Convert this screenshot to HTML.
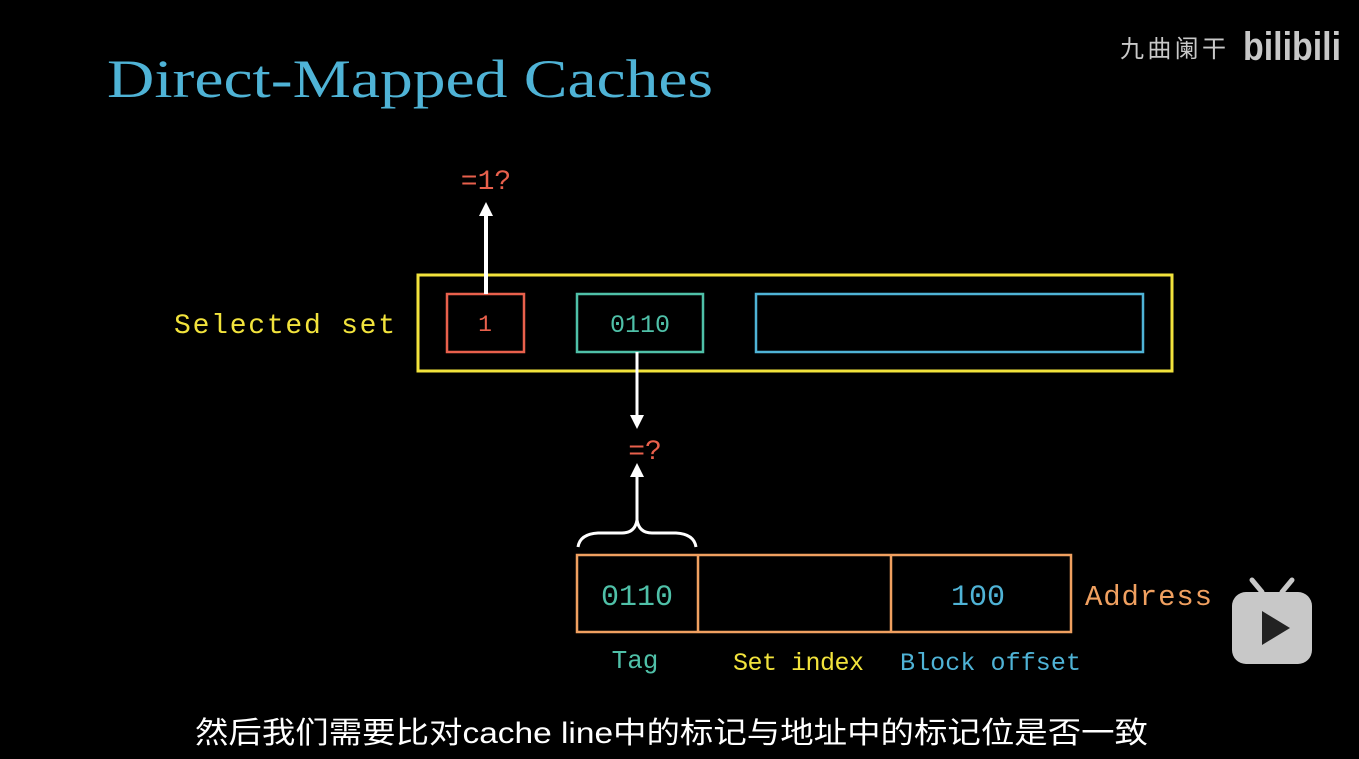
<!DOCTYPE html>
<html><head><meta charset="utf-8"><style>
html,body{margin:0;padding:0;background:#000;width:1359px;height:759px;overflow:hidden}
</style></head><body>
<svg width="1359" height="759" xmlns="http://www.w3.org/2000/svg">
<rect width="1359" height="759" fill="#000"/>
<text x="107" y="97" font-family="Liberation Serif, serif" font-size="54" fill="#4fb3d6" textLength="606" lengthAdjust="spacingAndGlyphs">Direct-Mapped Caches</text>
<text x="1120" y="57" font-family="Noto Sans CJK SC, sans-serif" font-size="24" fill="#c8c8c8" textLength="106">九曲阑干</text>
<text x="1243" y="60" font-family="Liberation Sans, sans-serif" font-weight="bold" font-size="40" fill="#c8c8c8" textLength="98" lengthAdjust="spacingAndGlyphs">bilibili</text>

<text x="174" y="333" font-family="Liberation Mono, monospace" font-size="28" fill="#f2e33c" textLength="221">Selected set</text>
<rect x="418" y="275" width="754" height="96" fill="none" stroke="#f2e33c" stroke-width="3"/>
<rect x="447" y="294" width="77" height="58" fill="none" stroke="#e8604c" stroke-width="2.5"/>
<text x="485" y="331" text-anchor="middle" font-family="Liberation Mono, monospace" font-size="23" fill="#e8604c">1</text>
<rect x="577" y="294" width="126" height="58" fill="none" stroke="#4fc0a8" stroke-width="2.5"/>
<text x="640" y="332" text-anchor="middle" font-family="Liberation Mono, monospace" font-size="25" fill="#4fc0a8">0110</text>
<rect x="756" y="294" width="387" height="58" fill="none" stroke="#4fb3d6" stroke-width="2.5"/>

<line x1="486" y1="294" x2="486" y2="214" stroke="#fff" stroke-width="4"/>
<polygon points="486,202 479,216 493,216" fill="#fff"/>
<text x="486" y="189" text-anchor="middle" font-family="Liberation Mono, monospace" font-size="28" fill="#e8604c">=1?</text>

<line x1="637" y1="352" x2="637" y2="418" stroke="#fff" stroke-width="3"/>
<polygon points="637,429 630,415 644,415" fill="#fff"/>
<text x="645" y="459" text-anchor="middle" font-family="Liberation Mono, monospace" font-size="28" fill="#e8604c">=?</text>
<line x1="637" y1="520" x2="637" y2="476" stroke="#fff" stroke-width="3"/>
<polygon points="637,463 630,477 644,477" fill="#fff"/>
<path d="M578,547 Q580,534 598,533 L622,533 Q635,533 637,520 Q639,533 652,533 L676,533 Q694,534 696,547" fill="none" stroke="#fff" stroke-width="3"/>

<rect x="577" y="555" width="494" height="77" fill="none" stroke="#f0a060" stroke-width="2.5"/>
<line x1="698" y1="555" x2="698" y2="632" stroke="#f0a060" stroke-width="2.5"/>
<line x1="891" y1="555" x2="891" y2="632" stroke="#f0a060" stroke-width="2.5"/>
<text x="637" y="605" text-anchor="middle" font-family="Liberation Mono, monospace" font-size="30" fill="#4fc0a8">0110</text>
<text x="978" y="605" text-anchor="middle" font-family="Liberation Mono, monospace" font-size="30" fill="#4fb3d6">100</text>
<text x="1085" y="605" font-family="Liberation Mono, monospace" font-size="29" fill="#f0a060" textLength="127">Address</text>
<text x="635" y="668" text-anchor="middle" font-family="Liberation Mono, monospace" font-size="26" fill="#4fc0a8">Tag</text>
<text x="733" y="670" font-family="Liberation Mono, monospace" font-size="25" fill="#f2e33c" textLength="131">Set index</text>
<text x="900" y="670" font-family="Liberation Mono, monospace" font-size="25" fill="#4fb3d6" textLength="181">Block offset</text>

<rect x="1232" y="592" width="80" height="72" rx="14" fill="#c8c8c8"/>
<line x1="1252" y1="580" x2="1262" y2="592" stroke="#c8c8c8" stroke-width="5" stroke-linecap="round"/>
<line x1="1292" y1="580" x2="1282" y2="592" stroke="#c8c8c8" stroke-width="5" stroke-linecap="round"/>
<polygon points="1262,611 1262,645 1290,628" fill="#222"/>

<text x="195" y="743" font-family="Liberation Sans, Noto Sans CJK SC, sans-serif" font-size="30" fill="#fff" textLength="953" lengthAdjust="spacingAndGlyphs">然后我们需要比对cache line中的标记与地址中的标记位是否一致</text>
</svg>
</body></html>
